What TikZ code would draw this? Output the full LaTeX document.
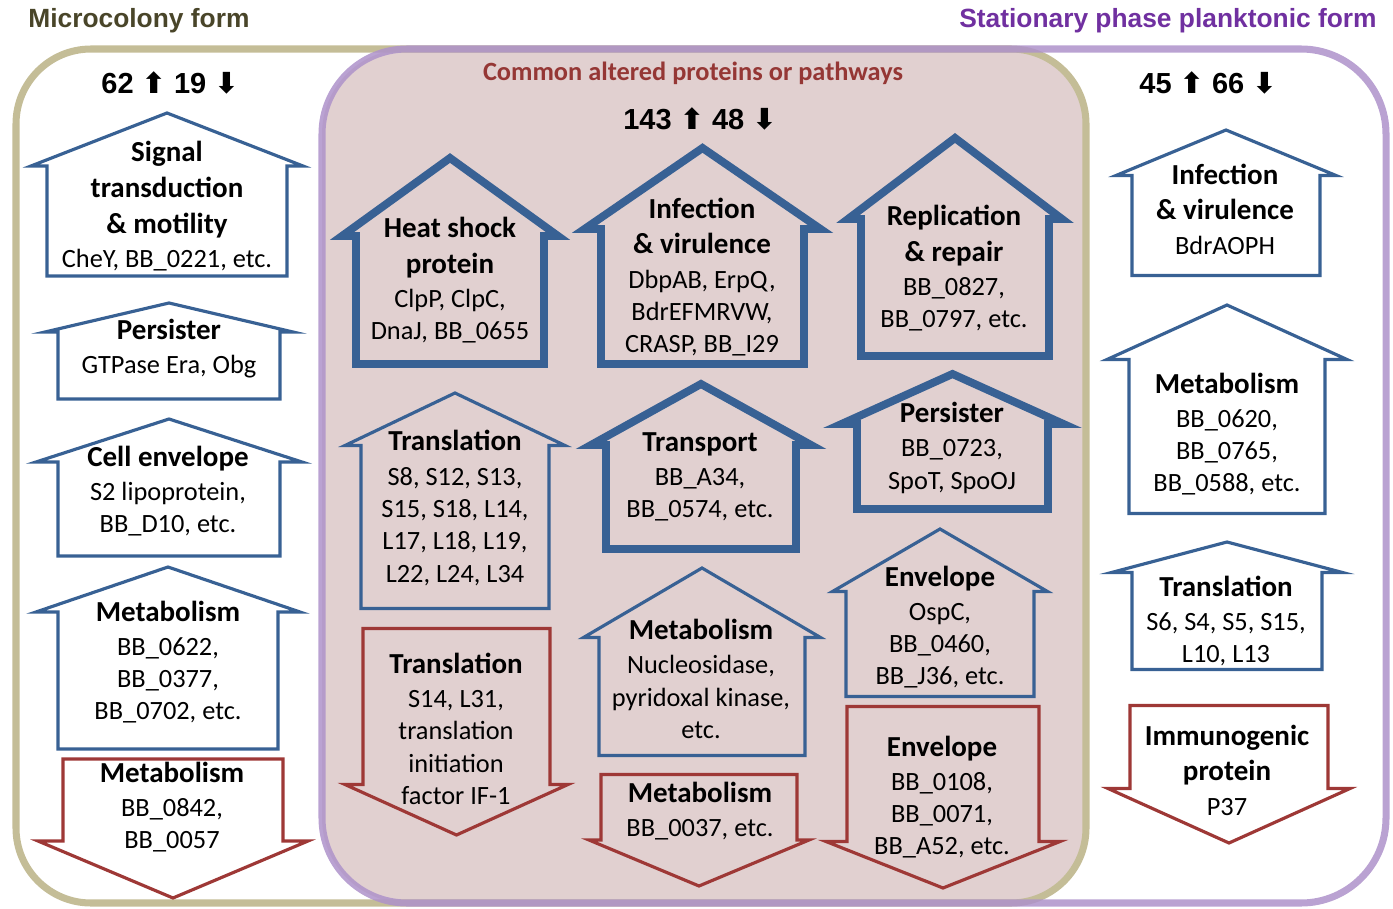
\documentclass[tikz,border=0pt]{standalone}
\usepackage{fontspec}
\setmainfont{Carlito}
\newfontfamily\arialbf{Liberation Sans}
\newfontfamily\arrowsym{DejaVu Sans}
\usepackage{tikz}

\definecolor{beigeline}{RGB}{196,189,151}
\definecolor{purpline}{RGB}{174,146,202}
\definecolor{pinkbg}{RGB}{225,208,208}
\definecolor{arrblue}{RGB}{56,97,148}
\definecolor{arrred}{RGB}{158,56,54}
\definecolor{olivetxt}{RGB}{73,69,41}
\definecolor{purptxt}{RGB}{112,48,160}
\definecolor{redtxt}{RGB}{149,55,53}

\newcommand\hd{\fontsize{16.5}{20}\selectfont\bfseries}
\newcommand\bd{\fontsize{15}{18.4}\selectfont}
\newcommand\upsym{{\arrowsym ⬆}}
\newcommand\dnsym{{\arrowsym ⬇}}

% up arrow: style, x, apex y, wing y, wing half, body half, bottom y
\newcommand\upbox[7]{\draw[#1] (#2-#6,#7) -- (#2-#6,#4) -- (#2-#5,#4) -- (#2,#3) -- (#2+#5,#4) -- (#2+#6,#4) -- (#2+#6,#7) -- cycle;}
% down arrow: style, x, top y, wing y, wing half, body half, tip y
\newcommand\dnbox[7]{\draw[#1] (#2-#6,#3) -- (#2+#6,#3) -- (#2+#6,#4) -- (#2+#5,#4) -- (#2,#7) -- (#2-#5,#4) -- (#2-#6,#4) -- cycle;}

\tikzset{
  thinblue/.style={draw=arrblue, line width=1.8pt},
  thickblue/.style={draw=arrblue, line width=4.5pt},
  thinred/.style={draw=arrred, line width=1.8pt},
  lbl/.style={align=center, font=\bd, inner sep=0pt},
  cnt/.style={font=\arialbf\bfseries\fontsize{16.5}{20}\selectfont, inner sep=0pt},
}

\begin{document}
\begin{tikzpicture}[x=0.02cm, y=-0.02cm]
  \useasboundingbox (0,0) rectangle (1393,909);

  % overlap of the two forms
  \begin{scope}
    \clip[rounded corners=1.5cm] (16,49) rectangle (1086,903);
    \fill[pinkbg, rounded corners=1.7cm] (322,49) rectangle (1386,903);
  \end{scope}
  \draw[beigeline, line width=4pt, rounded corners=1.5cm] (16,49) rectangle (1086,903);
  \draw[purpline, line width=4pt, rounded corners=1.7cm, opacity=.85] (322,49) rectangle (1386,903);

  \node[anchor=west, font=\arialbf\bfseries\fontsize{15}{18}\selectfont, text=olivetxt, inner sep=0pt] (mctitle) at (28,21) {Microcolony form};
  \node[anchor=east, font=\arialbf\bfseries\fontsize{15}{18}\selectfont, text=purptxt, inner sep=0pt] (sptitle) at (1377,21) {Stationary phase planktonic form};
  \node[font=\bfseries\fontsize{15}{18}\selectfont, text=redtxt, inner sep=0pt] (cmtitle) at (693,73) {Common altered proteins or pathways};

  \node[cnt] (mccount) at (170,83) {62 \upsym{} 19 \dnsym};
  \node[cnt] (cmcount) at (700,119) {143 \upsym{} 48 \dnsym};
  \node[cnt] (spcount) at (1208,83) {45 \upsym{} 66 \dnsym};

  % microcolony form
  \upbox{thinblue}{167}{113}{166}{136}{120}{276}
  \upbox{thinblue}{169}{303}{332}{124}{111}{399}
  \upbox{thinblue}{169}{419}{462}{133}{111}{556}
  \upbox{thinblue}{168}{567}{612}{132}{110}{749}
  \dnbox{thinred}{173}{759}{841}{135}{110}{898}
  \node[lbl] (mcsig) at (167,206) {\hd Signal\\[2pt]\hd transduction\\[2pt]\hd \& motility\\[1pt]CheY, BB\_0221, etc.};
  \node[lbl] (mcper) at (169,349) {\hd Persister\\[1pt]GTPase Era, Obg};
  \node[lbl] (mcenv) at (168,491) {\hd Cell envelope\\[1pt]S2 lipoprotein,\\BB\_D10, etc.};
  \node[lbl] (mcmetup) at (168,662) {\hd Metabolism\\[1pt]BB\_0622,\\BB\_0377,\\BB\_0702, etc.};
  \node[lbl] (mcmetdn) at (172,807) {\hd Metabolism\\[1pt]BB\_0842,\\BB\_0057};

  % common
  \upbox{thickblue}{450}{158}{236}{108}{94}{364}
  \upbox{thickblue}{702.5}{148}{229}{118}{101.5}{364}
  \upbox{thickblue}{955}{138}{219}{107}{94}{356}
  \upbox{thinblue}{455}{393}{445.5}{110}{94}{608.5}
  \upbox{thickblue}{701}{384}{445}{110}{95}{549}
  \upbox{thickblue}{952.5}{374}{424}{111}{95.5}{509}
  \dnbox{thinred}{456.5}{628.5}{784.5}{111.5}{93.5}{835}
  \upbox{thinblue}{702}{568}{637.5}{118.5}{103}{755.5}
  \dnbox{thinred}{699}{774.5}{840}{110}{98}{886}
  \upbox{thinblue}{940}{529}{591.5}{107.5}{94}{696.5}
  \dnbox{thinred}{943}{706.5}{841.5}{117}{96}{888}
  \node[lbl] (cmheat) at (450,280) {\hd Heat shock\\[2pt]\hd protein\\[1pt]ClpP, ClpC,\\DnaJ, BB\_0655};
  \node[lbl] (cminf) at (702,277) {\hd Infection\\[2pt]\hd \& virulence\\[1pt]DbpAB, ErpQ,\\BdrEFMRVW,\\CRASP, BB\_I29};
  \node[lbl] (cmrep) at (954,268) {\hd Replication\\[2pt]\hd \& repair\\[1pt]BB\_0827,\\BB\_0797, etc.};
  \node[lbl] (cmtrup) at (455,508) {\hd Translation\\[1pt]S8, S12, S13,\\S15, S18, L14,\\L17, L18, L19,\\L22, L24, L34};
  \node[lbl] (cmtrans) at (700,477) {\hd Transport\\[1pt]BB\_A34,\\BB\_0574, etc.};
  \node[lbl] (cmper) at (952,448) {\hd Persister\\[1pt]BB\_0723,\\SpoT, SpoOJ};
  \node[lbl] (cmtrdn) at (456,729) {\hd Translation\\[1pt]S14, L31,\\translation\\initiation\\factor IF-1};
  \node[lbl] (cmmetup) at (701,679) {\hd Metabolism\\[1pt]Nucleosidase,\\pyridoxal kinase,\\etc.};
  \node[lbl] (cmmetdn) at (700,811) {\hd Metabolism\\[1pt]BB\_0037, etc.};
  \node[lbl] (cmenvup) at (940,627) {\hd Envelope\\[1pt]OspC,\\BB\_0460,\\BB\_J36, etc.};
  \node[lbl] (cmenvdn) at (942,797) {\hd Envelope\\[1pt]BB\_0108,\\BB\_0071,\\BB\_A52, etc.};

  % stationary phase planktonic form
  \upbox{thinblue}{1226}{130}{175.5}{110}{94}{275.5}
  \upbox{thinblue}{1227}{305}{359.5}{120}{98}{513.5}
  \upbox{thinblue}{1227}{542}{572.5}{115.5}{95}{669.5}
  \dnbox{thinred}{1229}{705.5}{788.5}{121}{99}{843}
  \node[lbl] (spinf) at (1225,209) {\hd Infection\\[2pt]\hd \& virulence\\[1pt]BdrAOPH};
  \node[lbl] (spmet) at (1227,434) {\hd Metabolism\\[1pt]BB\_0620,\\BB\_0765,\\BB\_0588, etc.};
  \node[lbl] (sptr) at (1226,621) {\hd Translation\\[1pt]S6, S4, S5, S15,\\L10, L13};
  \node[lbl] (spimm) at (1227,770) {\hd Immunogenic\\[2pt]\hd protein\\[1pt]P37};
\end{tikzpicture}
\end{document}
